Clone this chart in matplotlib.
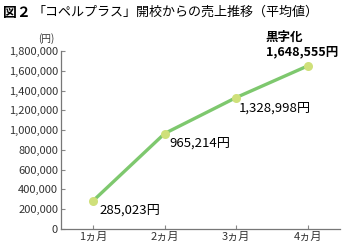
import numpy as np
import matplotlib.pyplot as plt
import matplotlib.ticker as ticker

plt.rcParams['font.family'] = ['Noto Sans CJK JP', 'DejaVu Sans']

months = ['1ヵ月', '2ヵ月', '3ヵ月', '4ヵ月']
sales = [285023, 965214, 1328998, 1648555]
yticks = np.arange(0, 1800001, 200000)

fig = plt.figure(figsize=(3.42, 2.46), dpi=100)
ax = fig.add_axes([0.178, 0.069, 0.816, 0.724])

x = np.arange(len(months))
ax.plot(x, sales, color='#7ec86e', lw=2.4, zorder=2)
ax.plot(x, sales, 'o', color='#cfe07a', ms=6.5, mec='none', zorder=3)

ax.set_xlim(-0.45, 3.45)
ax.set_ylim(0, 1800000)
ax.set_xticks(x)
ax.set_xticklabels(months)
ax.set_yticks(yticks)
ax.yaxis.set_major_formatter(ticker.FuncFormatter(lambda v, _: '{:,.0f}'.format(v)))
ax.tick_params(direction='in', length=3, color='#888888', labelsize=8,
               labelcolor='#333333', pad=2)

for s in ['top', 'right']:
    ax.spines[s].set_visible(False)
for s in ['left', 'bottom']:
    ax.spines[s].set_color('#777777')
    ax.spines[s].set_linewidth(0.9)

# data labels
ax.text(x[0] + 0.09, sales[0] - 30000, '{:,}円'.format(sales[0]), fontsize=9.5,
        va='top', ha='left')
ax.text(x[1] + 0.06, sales[1] - 30000, '{:,}円'.format(sales[1]), fontsize=9.5,
        va='top', ha='left')
ax.text(x[2] + 0.04, sales[2] - 40000, '{:,}円'.format(sales[2]), fontsize=9.5,
        va='top', ha='left')
ax.text(x[3] - 0.59, sales[3] + 80000, '黒字化\n{:,}円'.format(sales[3]),
        fontsize=9, fontweight='bold', va='bottom', ha='left', linespacing=1.1)

# title and unit
fig.text(0.008, 0.975, '図２', fontsize=10, fontweight='bold', va='top')
fig.text(0.095, 0.975, '「コペルプラス」開校からの売上推移（平均値）', fontsize=9.4,
         va='top')
fig.text(0.135, 0.82, '(円)', fontsize=7, va='bottom', ha='center', color='#333333')

fig.savefig('out.png', dpi=100)
